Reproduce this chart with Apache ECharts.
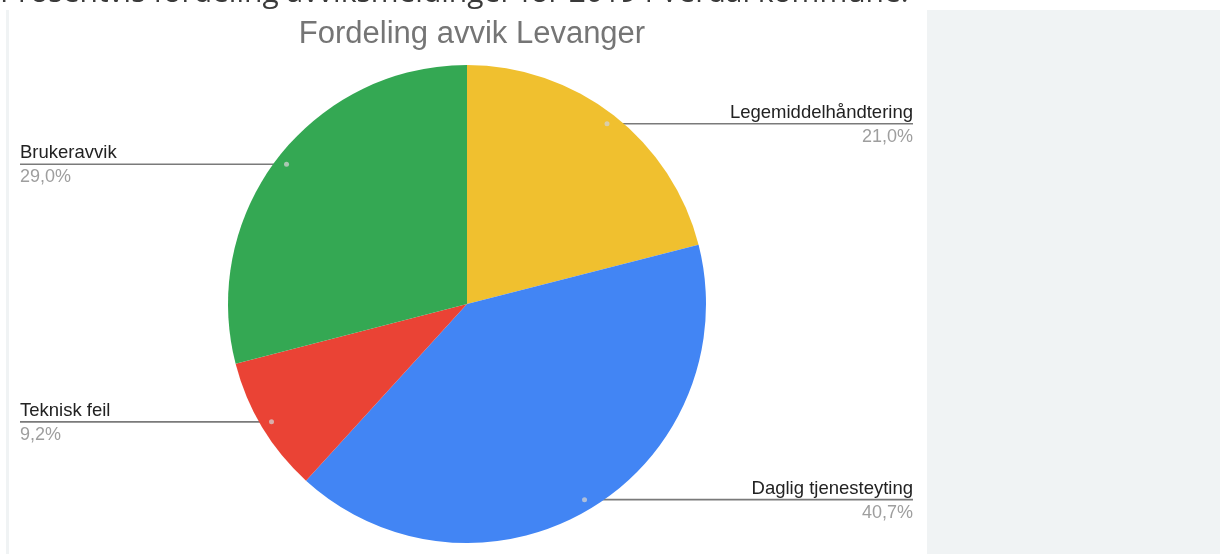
<!DOCTYPE html>
<html><head><meta charset="utf-8">
<script src="https://cdn.jsdelivr.net/npm/echarts@6/dist/echarts.min.js"></script>
<style>html,body{margin:0;padding:0;background:#fff}#c{width:1220px;height:554px}</style>
</head><body><div id="c"></div>
<script>
const categories = ['Legemiddelhåndtering', 'Daglig tjenesteyting', 'Teknisk feil', 'Brukeravvik'];
const values = [21.0, 40.7, 9.2, 29.0];
const colors = ['#f0c02f', '#4285f4', '#ea4335', '#34a853'];
const titleText = 'Fordeling avvik Levanger';
const headingText = 'Prosentvis fordeling avviksmeldinger for 2019 i Verdal kommune.';

const CX = 467, CY = 304, R = 239, ANCHOR = 0.955;
const LEFT_X = 20, RIGHT_X = 913;
const total = values.reduce((a, b) => a + b, 0);
const anchors = [];
let cum = 0;
values.forEach(v => {
  const a = (cum + v / 2) / total * 2 * Math.PI;
  cum += v;
  anchors.push([CX + ANCHOR * R * Math.sin(a), CY - ANCHOR * R * Math.cos(a), a]);
});
const fmt = v => v.toFixed(1).replace('.', ',') + '%';

const chart = echarts.init(document.getElementById('c'), null, {renderer: 'canvas'});
const font = 'Liberation Sans, Arial, sans-serif';

const graphics = [
  {type: 'rect', silent: true, shape: {x: 927, y: 10, width: 293, height: 544}, style: {fill: '#f0f3f4'}},
  {type: 'rect', silent: true, shape: {x: 6, y: 10, width: 3, height: 544}, style: {fill: '#f0f3f4'}},
  {type: 'text', silent: true, x: 0, y: -7, style: {text: headingText, font: '30px "Open Sans", sans-serif', fill: '#3a3a3a', verticalAlign: 'middle', align: 'left'}}
];
anchors.forEach(p => graphics.push({type: 'circle', silent: true, z: 100, shape: {cx: p[0], cy: p[1], r: 2.5}, style: {fill: 'rgba(210,210,210,0.75)'}}));

chart.setOption({
  backgroundColor: '#fff',
  animation: false,
  title: {text: titleText, left: CX, top: 14, textAlign: 'center',
    textStyle: {color: '#757575', fontSize: 31, fontWeight: 'normal', fontFamily: font}},
  graphic: graphics,
  series: [{
    type: 'pie',
    center: [CX, CY],
    radius: R,
    startAngle: 90,
    clockwise: true,
    avoidLabelOverlap: false,
    itemStyle: {borderWidth: 0},
    data: categories.map((c, i) => ({name: c, value: values[i], itemStyle: {color: colors[i]}})),
    label: {
      show: true,
      position: 'outside',
      formatter: p => '{n|' + p.name + '}\n{p|' + fmt(p.value) + '}',
      rich: {
        n: {fontFamily: font, fontSize: 18.5, color: '#222', lineHeight: 24},
        p: {fontFamily: font, fontSize: 18, color: '#9e9e9e', lineHeight: 24}
      }
    },
    labelLine: {show: true, lineStyle: {color: '#7a7a7a', width: 1.6}},
    labelLayout: function (params) {
      const p = anchors[params.dataIndex];
      const right = p[2] < Math.PI;
      const tx = right ? RIGHT_X : LEFT_X;
      return {
        x: tx, y: p[1] + 1, align: right ? 'right' : 'left', verticalAlign: 'middle',
        labelLinePoints: [[p[0], p[1]], [tx, p[1]]]
      };
    }
  }]
});
</script></body></html>
